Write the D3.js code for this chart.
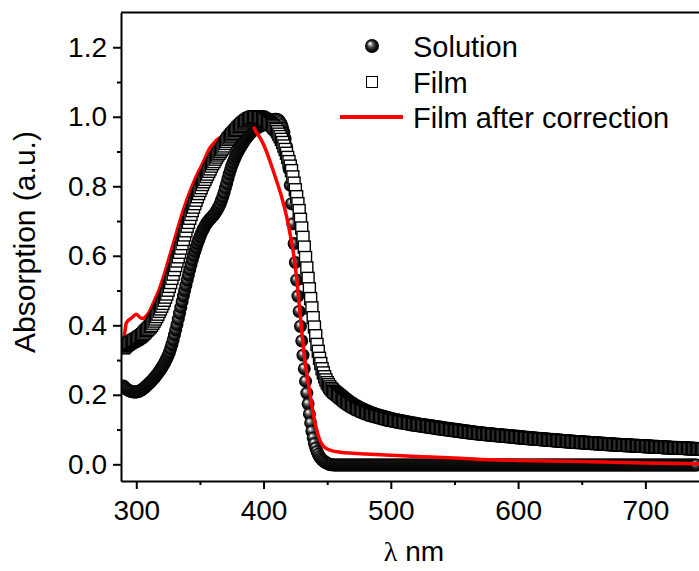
<!DOCTYPE html>
<html><head><meta charset="utf-8">
<script src="https://cdn.jsdelivr.net/npm/d3@7"></script>
<style>
body{margin:0;background:#fff;}
svg{display:block;}
text{font-family:Arial,"Liberation Sans",sans-serif;fill:#000;}
</style>
</head><body>
<svg id="c" width="699" height="571"></svg>
<script>
// ---------- data ----------
const wlStart = 290;   // first wavelength (nm) of the two symbol series
const wlStep = 1;      // nm between samples

// Solution (black spheres), 290..750 nm
const solution = [
0.225,0.221,0.218,0.215,0.213,0.211,0.210,0.209,0.208,0.208,
0.208,0.209,0.210,0.212,0.214,0.216,0.219,0.222,0.226,0.229,
0.233,0.236,0.240,0.244,0.248,0.252,0.257,0.262,0.267,0.272,
0.278,0.284,0.290,0.297,0.305,0.313,0.322,0.333,0.345,0.358,
0.372,0.387,0.402,0.418,0.435,0.452,0.468,0.484,0.500,0.515,
0.530,0.545,0.560,0.574,0.588,0.601,0.613,0.624,0.635,0.645,
0.655,0.664,0.672,0.679,0.686,0.692,0.697,0.702,0.706,0.710,
0.714,0.718,0.723,0.729,0.735,0.742,0.750,0.760,0.770,0.782,
0.795,0.808,0.822,0.835,0.847,0.858,0.868,0.877,0.886,0.893,
0.900,0.907,0.913,0.919,0.925,0.931,0.936,0.941,0.946,0.950,
0.954,0.958,0.961,0.964,0.966,0.968,0.970,0.972,0.974,0.976,
0.977,0.979,0.981,0.983,0.985,0.987,0.989,0.991,0.992,0.993,
0.993,0.992,0.990,0.985,0.978,0.968,0.955,0.937,0.915,0.886,
0.850,0.803,0.750,0.692,0.635,0.581,0.530,0.484,0.440,0.397,
0.355,0.314,0.275,0.239,0.205,0.174,0.145,0.119,0.095,0.076,
0.060,0.047,0.037,0.029,0.022,0.017,0.013,0.010,0.007,0.005,
0.003,0.001,0.000,-0.001,-0.001,-0.002,-0.002,-0.002,-0.002,-0.002,
-0.002,-0.002,-0.002,-0.002,-0.002,-0.002,-0.002,-0.002,-0.002,-0.002,
-0.002,-0.002,-0.002,-0.002,-0.002,-0.002,-0.002,-0.002,-0.002,-0.002,
-0.002,-0.002,-0.002,-0.002,-0.002,-0.002,-0.002,-0.002,-0.002,-0.002,
-0.002,-0.002,-0.002,-0.002,-0.002,-0.002,-0.002,-0.002,-0.002,-0.002,
-0.002,-0.002,-0.002,-0.002,-0.002,-0.002,-0.002,-0.002,-0.002,-0.002,
-0.002,-0.002,-0.002,-0.002,-0.002,-0.002,-0.002,-0.002,-0.002,-0.002,
-0.002,-0.002,-0.002,-0.002,-0.002,-0.002,-0.002,-0.002,-0.002,-0.002,
-0.002,-0.002,-0.002,-0.002,-0.002,-0.002,-0.002,-0.002,-0.002,-0.002,
-0.002,-0.002,-0.002,-0.002,-0.002,-0.002,-0.002,-0.002,-0.002,-0.002,
-0.002,-0.002,-0.002,-0.002,-0.002,-0.002,-0.002,-0.002,-0.002,-0.002,
-0.002,-0.002,-0.002,-0.002,-0.002,-0.002,-0.002,-0.002,-0.002,-0.002,
-0.002,-0.002,-0.002,-0.002,-0.002,-0.002,-0.002,-0.002,-0.002,-0.002,
-0.002,-0.002,-0.002,-0.002,-0.002,-0.002,-0.002,-0.002,-0.002,-0.002,
-0.002,-0.002,-0.002,-0.002,-0.002,-0.002,-0.002,-0.002,-0.002,-0.002,
-0.002,-0.002,-0.002,-0.002,-0.002,-0.002,-0.002,-0.002,-0.002,-0.002,
-0.002,-0.002,-0.002,-0.002,-0.002,-0.002,-0.002,-0.002,-0.002,-0.002,
-0.002,-0.002,-0.002,-0.002,-0.002,-0.002,-0.002,-0.002,-0.002,-0.002,
-0.002,-0.002,-0.002,-0.002,-0.002,-0.002,-0.002,-0.002,-0.002,-0.002,
-0.002,-0.002,-0.002,-0.002,-0.002,-0.002,-0.002,-0.002,-0.002,-0.002,
-0.002,-0.002,-0.002,-0.002,-0.002,-0.002,-0.002,-0.002,-0.002,-0.002,
-0.002,-0.002,-0.002,-0.002,-0.002,-0.002,-0.002,-0.002,-0.002,-0.002,
-0.002,-0.002,-0.002,-0.002,-0.002,-0.002,-0.002,-0.002,-0.002,-0.002,
-0.002,-0.002,-0.002,-0.002,-0.002,-0.002,-0.002,-0.002,-0.002,-0.002,
-0.002,-0.002,-0.002,-0.002,-0.002,-0.002,-0.002,-0.002,-0.002,-0.002,
-0.002,-0.002,-0.002,-0.002,-0.002,-0.002,-0.002,-0.002,-0.002,-0.002,
-0.002,-0.002,-0.002,-0.002,-0.002,-0.002,-0.002,-0.002,-0.002,-0.002,
-0.002,-0.002,-0.002,-0.002,-0.002,-0.002,-0.002,-0.002,-0.002,-0.002,
-0.002,-0.002,-0.002,-0.002,-0.002,-0.002,-0.002,-0.002,-0.002,-0.002,
-0.002
];

// Film (open squares), 290..750 nm
const film = [
0.335,0.338,0.342,0.345,0.347,0.350,0.352,0.354,0.356,0.358,
0.360,0.362,0.365,0.367,0.370,0.373,0.377,0.381,0.385,0.388,
0.392,0.396,0.400,0.406,0.412,0.418,0.425,0.432,0.440,0.447,
0.455,0.463,0.472,0.481,0.490,0.501,0.512,0.523,0.535,0.547,
0.560,0.572,0.585,0.597,0.610,0.622,0.635,0.647,0.660,0.672,
0.685,0.696,0.708,0.719,0.730,0.740,0.750,0.760,0.770,0.779,
0.788,0.796,0.805,0.813,0.820,0.828,0.835,0.843,0.850,0.858,
0.865,0.871,0.878,0.884,0.890,0.895,0.900,0.905,0.910,0.916,
0.923,0.929,0.935,0.939,0.944,0.948,0.952,0.956,0.960,0.964,
0.968,0.972,0.975,0.979,0.982,0.985,0.988,0.990,0.993,0.995,
0.996,0.998,0.999,1.000,1.000,1.000,0.999,0.999,0.998,0.996,
0.994,0.992,0.990,0.987,0.984,0.981,0.978,0.975,0.971,0.967,
0.963,0.957,0.950,0.943,0.935,0.926,0.916,0.906,0.895,0.883,
0.871,0.858,0.845,0.827,0.809,0.790,0.770,0.750,0.730,0.705,
0.680,0.653,0.625,0.595,0.565,0.535,0.505,0.477,0.450,0.422,
0.395,0.370,0.345,0.325,0.305,0.290,0.275,0.263,0.252,0.243,
0.235,0.229,0.223,0.218,0.214,0.210,0.207,0.204,0.201,0.198,
0.195,0.192,0.189,0.186,0.183,0.180,0.178,0.175,0.173,0.170,
0.168,0.166,0.164,0.162,0.160,0.158,0.157,0.155,0.153,0.152,
0.150,0.149,0.147,0.146,0.145,0.143,0.142,0.141,0.140,0.139,
0.138,0.137,0.136,0.135,0.134,0.133,0.132,0.131,0.130,0.129,
0.128,0.127,0.127,0.126,0.125,0.125,0.124,0.123,0.122,0.122,
0.121,0.120,0.120,0.119,0.118,0.118,0.117,0.116,0.116,0.115,
0.114,0.114,0.113,0.113,0.112,0.112,0.111,0.111,0.110,0.110,
0.109,0.108,0.108,0.107,0.107,0.106,0.106,0.105,0.104,0.104,
0.103,0.103,0.102,0.102,0.101,0.101,0.100,0.100,0.099,0.099,
0.098,0.098,0.097,0.097,0.096,0.096,0.095,0.095,0.094,0.094,
0.093,0.093,0.092,0.092,0.091,0.091,0.091,0.090,0.090,0.089,
0.089,0.088,0.088,0.088,0.087,0.087,0.087,0.086,0.086,0.085,
0.085,0.085,0.084,0.084,0.084,0.083,0.083,0.083,0.082,0.082,
0.082,0.081,0.081,0.081,0.080,0.080,0.080,0.079,0.079,0.078,
0.078,0.078,0.077,0.077,0.077,0.076,0.076,0.076,0.075,0.075,
0.075,0.074,0.074,0.074,0.073,0.073,0.073,0.073,0.072,0.072,
0.072,0.071,0.071,0.071,0.070,0.070,0.070,0.070,0.069,0.069,
0.069,0.068,0.068,0.068,0.067,0.067,0.067,0.067,0.066,0.066,
0.066,0.065,0.065,0.065,0.065,0.064,0.064,0.064,0.064,0.063,
0.063,0.063,0.063,0.062,0.062,0.062,0.062,0.061,0.061,0.061,
0.061,0.060,0.060,0.060,0.060,0.059,0.059,0.059,0.059,0.058,
0.058,0.058,0.058,0.057,0.057,0.057,0.057,0.056,0.056,0.056,
0.056,0.056,0.055,0.055,0.055,0.055,0.055,0.054,0.054,0.054,
0.054,0.054,0.053,0.053,0.053,0.053,0.053,0.052,0.052,0.052,
0.052,0.052,0.051,0.051,0.051,0.051,0.051,0.050,0.050,0.050,
0.050,0.050,0.049,0.049,0.049,0.049,0.049,0.048,0.048,0.048,
0.048,0.048,0.048,0.047,0.047,0.047,0.047,0.047,0.047,0.046,
0.046,0.046,0.046,0.046,0.046,0.045,0.045,0.045,0.045,0.045,
0.045,0.045,0.045,0.044,0.044,0.044,0.044,0.044,0.044,0.044,
0.044
];

// Film after correction (red line)
const corrWl = [290,291,292,294,296,298,300,302,304,306,308,310,312,315,318,321,324,327,330,333,
336,339,342,345,348,351,354,357,360,363,366,370,375,380,385,389,391,394,398,402,
406,410,414,418,421,424,426,428,430,432,434,436,438,440,442,444,446,448,450,455,
460,470,480,500,525,550,578,600,650,700,750];
const corrAbs = [0.362,0.380,0.405,0.415,0.420,0.427,0.432,0.426,0.420,0.420,0.428,0.437,0.452,0.477,0.503,0.535,0.571,0.609,0.646,0.684,
0.720,0.753,0.783,0.810,0.835,0.857,0.880,0.905,0.920,0.932,0.940,0.948,0.955,0.962,0.968,0.973,0.975,0.957,0.935,0.903,
0.862,0.818,0.772,0.715,0.660,0.595,0.535,0.460,0.385,0.315,0.260,0.214,0.168,0.128,0.095,0.072,0.057,0.049,0.044,0.038,
0.035,0.032,0.030,0.026,0.022,0.018,0.013,0.011,0.008,0.004,0.001];

const xTicks = [300, 400, 500, 600, 700];
const xMinor = [350, 450, 550, 650];
const yTicks = [0.0, 0.2, 0.4, 0.6, 0.8, 1.0, 1.2];
const yMinor = [0.1, 0.3, 0.5, 0.7, 0.9, 1.1];
const seriesNames = ["Solution", "Film", "Film after correction"];
const xTitle = "nm";
const yTitle = "Absorption (a.u.)";

// ---------- chart ----------
const svg = d3.select("#c");
const x = d3.scaleLinear().domain([288, 750]).range([121, 709]);
const y = d3.scaleLinear().domain([-0.048, 1.3]).range([481, 12.5]);

const defs = svg.append("defs");
const grad = defs.append("radialGradient").attr("id", "ball")
  .attr("cx", "50%").attr("cy", "50%").attr("r", "50%")
  .attr("fx", "33%").attr("fy", "30%");
[[0, "#ffffff"], [0.15, "#d0d0d0"], [0.42, "#505050"], [0.72, "#111"], [1, "#000"]]
  .forEach(([o, c]) => grad.append("stop").attr("offset", o).attr("stop-color", c));
defs.append("clipPath").attr("id", "plotclip").append("rect")
  .attr("x", x.range()[0]).attr("y", y.range()[1])
  .attr("width", x.range()[1] - x.range()[0]).attr("height", y.range()[0] - y.range()[1]);

const solData = solution.map((v, i) => ({wl: wlStart + i * wlStep, v}));
const filmData = film.map((v, i) => ({wl: wlStart + i * wlStep, v}));
const corrData = corrWl.map((wl, i) => ({wl, v: corrAbs[i]}));

const plot = svg.append("g").attr("clip-path", "url(#plotclip)");
const R = 6.5, S = 12;

plot.append("g").selectAll("circle").data(solData).join("circle")
  .attr("cx", d => x(d.wl)).attr("cy", d => y(d.v)).attr("r", R)
  .attr("fill", "url(#ball)");

plot.append("path").datum(corrData)
  .attr("fill", "none").attr("stroke", "#ff0000").attr("stroke-width", 3.5)
  .attr("stroke-linejoin", "round")
  .attr("d", d3.line().x(d => x(d.wl)).y(d => y(d.v)).curve(d3.curveMonotoneX));

plot.append("g").selectAll("rect").data(filmData).join("rect")
  .attr("x", d => x(d.wl) - S / 2).attr("y", d => y(d.v) - S / 2)
  .attr("width", S).attr("height", S)
  .attr("fill", "#fff").attr("stroke", "#000").attr("stroke-width", 1.4);

// axes
const font = "Arial, 'Liberation Sans', sans-serif";
function styleAxis(g) {
  g.attr("font-size", 28).attr("font-family", font);
  g.select(".domain").attr("stroke", "#000").attr("stroke-width", 2);
  g.selectAll(".tick line").attr("stroke", "#000").attr("stroke-width", 2);
  g.selectAll(".tick text").attr("fill", "#000");
}
const gxMinor = svg.append("g").attr("transform", `translate(0,${y.range()[0]})`)
  .call(d3.axisBottom(x).tickValues(xMinor).tickSize(4).tickSizeOuter(0).tickFormat(""));
styleAxis(gxMinor); gxMinor.select(".domain").remove();
const gyMinor = svg.append("g").attr("transform", `translate(${x.range()[0]},0)`)
  .call(d3.axisLeft(y).tickValues(yMinor).tickSize(4).tickSizeOuter(0).tickFormat(""));
styleAxis(gyMinor); gyMinor.select(".domain").remove();

const gx = svg.append("g").attr("transform", `translate(0,${y.range()[0]})`)
  .call(d3.axisBottom(x).tickValues(xTicks).tickSize(8).tickSizeOuter(0).tickPadding(11).tickFormat(d3.format("d")));
styleAxis(gx);
const gy = svg.append("g").attr("transform", `translate(${x.range()[0]},0)`)
  .call(d3.axisLeft(y).tickValues(yTicks).tickSize(8).tickSizeOuter(0).tickPadding(6).tickFormat(d3.format(".1f")));
styleAxis(gy);

// top frame
svg.append("line").attr("x1", x.range()[0]).attr("x2", x.range()[1])
  .attr("y1", y.range()[1]).attr("y2", y.range()[1])
  .attr("stroke", "#000").attr("stroke-width", 2);

// axis titles
const xt = svg.append("text").attr("x", 414).attr("y", 561).attr("text-anchor", "middle")
  .attr("font-size", 28);
xt.append("tspan").attr("font-family", "'Liberation Serif','DejaVu Serif',serif").text("λ");
xt.append("tspan").text(" " + xTitle);

svg.append("text").attr("transform", "translate(35,242) rotate(-90)")
  .attr("text-anchor", "middle").attr("font-size", 30).text(yTitle);

// legend
const lg = svg.append("g");
const lx = 413, rows = [56.7, 92.7, 128.3];
lg.append("circle").attr("cx", 372).attr("cy", 46).attr("r", 7).attr("fill", "url(#ball)");
lg.append("rect").attr("x", 372 - 5.5).attr("y", 82 - 5.5).attr("width", 11).attr("height", 11)
  .attr("fill", "#fff").attr("stroke", "#000").attr("stroke-width", 1);
lg.append("line").attr("x1", 340).attr("x2", 403).attr("y1", 117).attr("y2", 117)
  .attr("stroke", "#ff0000").attr("stroke-width", 4);
seriesNames.forEach((n, i) => lg.append("text").attr("x", lx).attr("y", rows[i])
  .attr("font-size", 29).text(n));
</script>
</body></html>
